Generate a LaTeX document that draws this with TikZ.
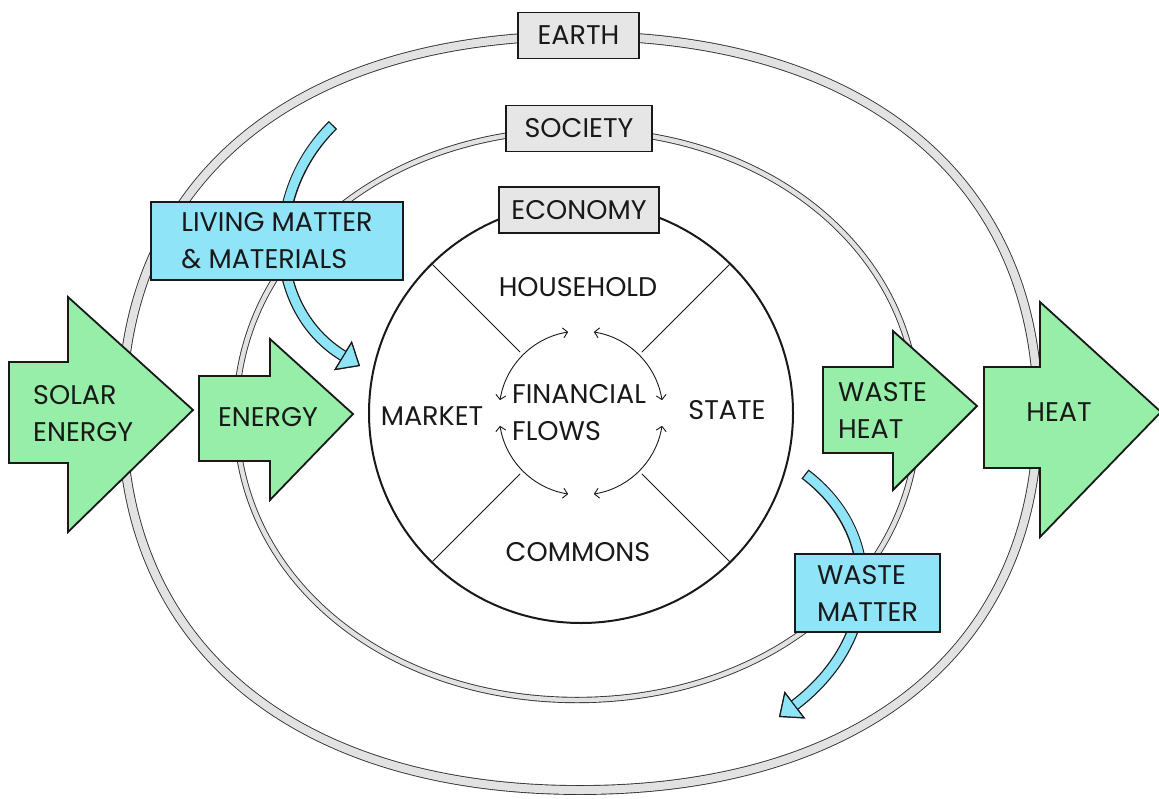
\documentclass[tikz,border=0pt]{standalone}
\usepackage{fontspec}
\setmainfont{Poppins}
\usetikzlibrary{arrows.meta}
\definecolor{flowgreen}{RGB}{150,238,168}
\definecolor{flowblue}{RGB}{144,228,248}
\definecolor{boxgray}{RGB}{230,230,230}
\definecolor{ringgray}{RGB}{226,226,226}
\definecolor{ink}{RGB}{25,25,25}
\begin{document}
\begin{tikzpicture}[x=1pt,y=-1pt,
  lbl/.style={font=\fontsize{27}{37}\selectfont, text=ink, align=left, inner sep=0pt},
  tagbox/.style={lbl, draw=ink, line width=1.3pt, fill=boxgray, minimum height=46pt, align=left},
  bluebox/.style={tagbox, fill=flowblue},
  bigarrow/.style={draw=ink, line width=1.8pt, fill=flowgreen, line join=miter},
  earthring/.style={draw=black!80, line width=0.9pt, double=ringgray, double distance=8pt},
  socring/.style={earthring, double distance=4.5pt},
  sector/.style={draw=ink, line width=0.8pt},
  money/.style={draw=ink, line width=0.9pt, {Straight Barb[length=4.5pt,width=10pt]}-{Straight Barb[length=4.5pt,width=10pt]}},
  flowtip/.style={-{Triangle[length=20pt,width=34pt,line width=1.2pt 0,fill=flowblue,color=ink]}},
  flowout/.style={flowtip, draw=ink, line width=11.5pt},
  flowin/.style={flowtip, draw=flowblue, line width=9pt, shorten <=1.3pt}]
\useasboundingbox (0,0) rectangle (1159,798);

% rings
\draw[earthring] (580,36) .. controls (864,36) and (1038,179) .. (1038,413)
  .. controls (1038,647) and (864,790) .. (580,790)
  .. controls (296,790) and (122,647) .. (122,413)
  .. controls (122,179) and (296,36) .. cycle;
\draw[socring] (577,130) .. controls (771,130) and (918,253) .. (918,415)
  .. controls (918,577) and (771,700) .. (577,700)
  .. controls (383,700) and (236,577) .. (236,415)
  .. controls (236,253) and (383,130) .. cycle;

% economy
\coordinate (fc) at (581,413);
\draw[ink, line width=2pt, fill=white] (fc) ellipse [x radius=212pt, y radius=210pt];
\foreach \a in {45,135,225,315}
  \draw[sector] (fc) ++(\a:86pt) -- ++(\a:124pt);
\foreach \a in {9,99,189,279}
  \draw[money] (fc) ++(\a:82pt) arc[start angle=\a, end angle=\a+72, radius=82pt];

\node[lbl] (household) at (578,287) {HOUSEHOLD};
\node[lbl] (commons) at (578,552) {COMMONS};
\node[lbl] (market) at (432,416) {MARKET};
\node[lbl] (state) at (727,410) {STATE};
\node[lbl, anchor=west] (money) at (512,413) {FINANCIAL\\FLOWS};

% material flows
\coordinate (lmtail) at (333,125);
\coordinate (lmhead) at (360,366);
\coordinate (wmtail) at (805,474);
\coordinate (wmhead) at (779,717);
\draw[flowout] (lmtail) .. controls (262,195) and (268,310) .. (lmhead);
\draw[flowin] (lmtail) .. controls (262,195) and (268,310) .. (lmhead);
\draw[flowout] (wmtail) .. controls (885,535) and (880,640) .. (wmhead);
\draw[flowin] (wmtail) .. controls (885,535) and (880,640) .. (wmhead);

% labels
\node[tagbox, minimum width=121pt] (earth) at (578.5,35.5) {EARTH};
\node[tagbox, minimum width=146pt] (society) at (579,128.5) {SOCIETY};
\node[tagbox, minimum width=160pt] (economy) at (579,210) {ECONOMY};
\node[bluebox, minimum width=252pt, minimum height=78pt] (living) at (277,241) {LIVING MATTER\\\& MATERIALS};
\node[bluebox, minimum width=145pt, minimum height=78pt] (waste) at (867.5,593) {WASTE\\MATTER};

% energy flows
\draw[bigarrow] (9,362) -- (68,362) -- (68,297) -- (193,410) -- (68,532) -- (68,463) -- (9,463) -- cycle;
\draw[bigarrow] (199,376) -- (270,376) -- (270,339) -- (353,414) -- (270,500) -- (270,461) -- (199,461) -- cycle;
\draw[bigarrow] (823,367) -- (893,367) -- (893,331) -- (977,406) -- (893,490) -- (893,453) -- (823,453) -- cycle;
\draw[bigarrow] (984,367) -- (1040,367) -- (1040,302) -- (1161,412) -- (1040,537) -- (1040,468) -- (984,468) -- cycle;
\node[lbl, anchor=west] (solar) at (33,414) {SOLAR\\ENERGY};
\node[lbl] (energy) at (268,417) {ENERGY};
\node[lbl, anchor=west] (wasteheat) at (838,410) {WASTE\\HEAT};
\node[lbl] (heat) at (1059,412) {HEAT};
\end{tikzpicture}
\end{document}
